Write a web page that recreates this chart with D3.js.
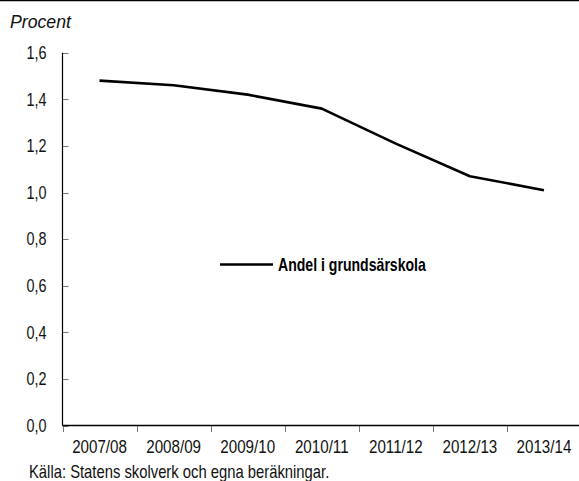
<!DOCTYPE html>
<html><head><meta charset="utf-8">
<script src="https://cdn.jsdelivr.net/npm/d3@7/dist/d3.min.js"></script>
<style>
body{margin:0;background:#fff;}
svg{display:block;}
.cond{font-family:"Liberation Sans",Arial,sans-serif;}
</style></head>
<body>
<svg id="c" width="579" height="481"></svg>
<script>
const categories = ["2007/08","2008/09","2009/10","2010/11","2011/12","2012/13","2013/14"];
const values = [1.48, 1.46, 1.42, 1.36, 1.21, 1.07, 1.01];
const yTicks = [0, 0.2, 0.4, 0.6, 0.8, 1.0, 1.2, 1.4, 1.6];
const seriesName = "Andel i grundsärskola";
const yTitle = "Procent";
const source = "Källa: Statens skolverk och egna beräkningar.";

(function(){
const svg = d3.select("#c");
const mLeft = 62.5, mRight = 581, mTop = 52.7, mBottom = 425.5;

const x = d3.scaleBand().domain(categories).range([mLeft, mRight]).padding(0);
const y = d3.scaleLinear().domain([0, 1.6]).range([mBottom, mTop]);

function condText(sel, px, py, sx){
  return sel.attr("transform", (d,i) => {
    const X = typeof px === "function" ? px(d,i) : px;
    const Y = typeof py === "function" ? py(d,i) : py;
    return `translate(${X},${Y}) scale(${sx},1)`;
  });
}

// top border
svg.append("line").attr("x1",0).attr("x2",579).attr("y1",0.5).attr("y2",0.5)
  .attr("stroke","#000").attr("stroke-width",1.5);

// y ticks (inward) and labels
const fmt = d => d3.format(".1f")(d).replace(".", ",");
const yg = svg.append("g");
yg.selectAll("line.t").data(yTicks).join("line")
  .attr("x1", mLeft).attr("x2", mLeft+6)
  .attr("y1", d => Math.round(y(d))+0.5).attr("y2", d => Math.round(y(d))+0.5)
  .attr("stroke","#777").attr("stroke-width",1);
condText(yg.selectAll("text").data(yTicks).join("text")
  .attr("class","cond").attr("dy","0.35em")
  .attr("text-anchor","end").attr("font-size",18).attr("fill","#111")
  .text(fmt), 46.5, d => y(d), 0.8);
// y axis line
svg.append("line").attr("x1",mLeft).attr("x2",mLeft).attr("y1",mTop).attr("y2",mBottom)
  .attr("stroke","#000").attr("stroke-width",1.2);

// x axis
const tickXs = categories.map(c => x(c)).concat([x.range()[1]]);
svg.selectAll("line.xt").data(tickXs).join("line")
  .attr("x1", d => Math.round(d)+0.5).attr("x2", d => Math.round(d)+0.5)
  .attr("y1", mBottom).attr("y2", mBottom+6.5)
  .attr("stroke","#777").attr("stroke-width",1);
svg.append("line").attr("x1",mLeft).attr("x2",579).attr("y1",mBottom).attr("y2",mBottom)
  .attr("stroke","#000").attr("stroke-width",1.3);
condText(svg.selectAll("text.xl").data(categories).join("text")
  .attr("class","cond")
  .attr("text-anchor","middle").attr("font-size",18.5).attr("fill","#111")
  .text(d => d), d => x(d)+x.bandwidth()/2, 452.5, 0.82);

// line
const line = d3.line().x((d,i) => x(categories[i])+x.bandwidth()/2).y(d => y(d));
svg.append("path").datum(values).attr("d", line)
  .attr("fill","none").attr("stroke","#000").attr("stroke-width",2.6)
  .attr("stroke-linejoin","round");

// legend
svg.append("line").attr("x1",220).attr("x2",273).attr("y1",264.5).attr("y2",264.5)
  .attr("stroke","#000").attr("stroke-width",2.6);
condText(svg.append("text").attr("class","cond").attr("dy","0.35em")
  .attr("font-size",17.5).attr("font-weight","bold").attr("fill","#000").text(seriesName), 278, 264.5, 0.805);

// y title
svg.append("text").attr("x",10).attr("y",28)
  .attr("font-family","'Liberation Sans',Arial,sans-serif").attr("font-style","italic")
  .attr("font-size",17.7).attr("fill","#111").text(yTitle);

// source
condText(svg.append("text").attr("class","cond")
  .attr("font-size",18.5).attr("fill","#111").text(source), 29, 477.5, 0.8);
})();
</script>
</body></html>
